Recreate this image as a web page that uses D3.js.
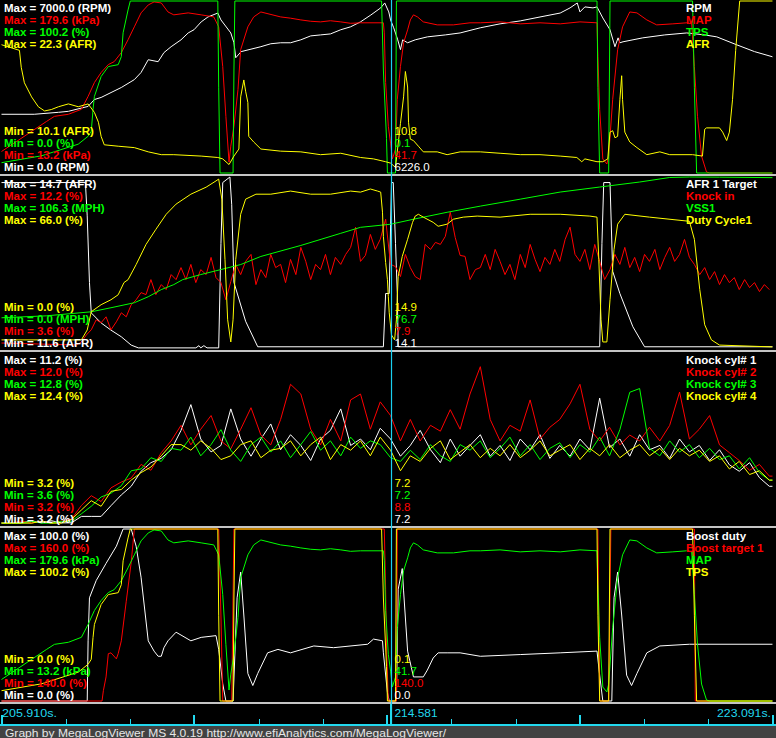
<!DOCTYPE html>
<html><head><meta charset="utf-8">
<script src="https://cdn.jsdelivr.net/npm/d3@7"></script>
<style>
html,body{margin:0;padding:0;background:#000;}
svg{display:block;}
</style></head><body>
<svg id="c" width="776" height="738"></svg>
<script>
// ---------- DATA ----------
const timeDomain = [205.910, 223.091];
const cursorTime = 214.581;
const tickTimes = [205.910,207.342,208.774,210.205,211.637,213.069,214.501,215.932,217.364,218.796,220.228,221.659,223.091];
const majorTickTimes = [205.910,210.205,214.501,218.796,223.091];
const axisLabels = ["205.910s.","214.581","223.091s."];
const footerText = "Graph by MegaLogViewer MS 4.0.19 http://www.efiAnalytics.com/MegaLogViewer/";

const panelNames = [["RPM","MAP","TPS","AFR"],["AFR 1 Target","Knock in","VSS1","Duty Cycle1"],["Knock cyl# 1","Knock cyl# 2","Knock cyl# 3","Knock cyl# 4"],["Boost duty","Boost target 1","MAP","TPS"]];
const panelUnits = [["RPM","kPa","%","AFR"],["AFR","%","MPH","%"],["%","%","%","%"],["%","%","kPa","%"]];
const panelMax = [[7000.0,179.6,100.2,22.3],[14.7,12.2,106.3,66.0],[11.2,12.0,12.8,12.4],[100.0,160.0,179.6,100.2]];
const panelMin = [[0.0,13.2,0.0,10.1],[11.6,3.6,0.0,0.0],[3.2,3.2,3.6,3.2],[0.0,140.0,13.2,0.0]];
const cursorValues = [["6226.0","41.7","0.1","10.8"],["14.1","7.9","76.7","14.9"],["7.2","8.8","7.2","7.2"],["0.0","140.0","41.7","0.1"]];

const rpm = [[205.91,2390],[206.64,2390],[207.18,2470],[207.40,2510],[207.84,2710],[207.98,2990],[208.13,3075],[208.58,3480],[208.87,3800],[209.02,4090],[209.18,4610],[209.40,4530],[209.53,4900],[209.69,5140],[209.91,5420],[210.07,5700],[210.20,5830],[210.36,6150],[210.51,6350],[210.73,6510],[210.80,6230],[211.02,5700],[211.09,5300],[211.13,4690],[211.25,4940],[211.69,5140],[211.91,5260],[212.13,5300],[212.35,5300],[212.58,5420],[212.80,5580],[213.02,5620],[213.24,5660],[213.47,5830],[213.69,5950],[213.91,6150],[214.14,6430],[214.36,6720],[214.45,6920],[214.54,6555],[214.58,6230],[214.65,5910],[214.74,5420],[214.80,5020],[214.85,5420],[214.96,5300],[215.13,5420],[215.40,5540],[215.80,5620],[216.13,5700],[216.58,5910],[217.02,6070],[217.47,6190],[217.91,6350],[218.36,6510],[218.58,6720],[218.74,6920],[218.80,6555],[218.91,6760],[219.09,6720],[219.18,6760],[219.31,6310],[219.47,5830],[219.58,5140],[219.65,5500],[219.69,5300],[219.76,5340],[220.20,5500],[220.69,5620],[221.18,5700],[221.58,5620],[221.85,5540],[222.29,5220],[222.69,4940],[223.09,4730]];

const map = [[205.91,34],[206.91,63],[207.09,68],[207.40,70],[207.69,74.8],[207.84,87.3],[207.98,100.7],[208.13,110.4],[208.29,118.1],[208.42,120.9],[208.58,129.6],[208.73,142.1],[208.87,154.6],[209.02,168.1],[209.18,175.8],[209.31,178.7],[209.47,177.7],[209.62,169.0],[209.75,166.2],[210.07,168.1],[210.36,166.2],[210.64,164.2],[210.75,154.6],[210.84,116.1],[210.91,68.0],[210.98,23.8],[211.02,39.2],[211.09,58.4],[211.18,94.0],[211.24,132.5],[211.40,154.6],[211.53,164.2],[211.69,169.0],[212.13,164.2],[212.35,163.0],[212.58,161.3],[212.80,160.0],[213.02,159.4],[213.24,160.5],[213.47,159.4],[213.69,158.0],[213.91,158.5],[214.42,158.5],[214.44,148.8],[214.47,100.7],[214.53,58.4],[214.58,42.1],[214.62,26.7],[214.69,36.3],[214.73,84.4],[214.80,116.1],[214.87,139.2],[214.96,151.7],[215.02,161.3],[215.09,166.2],[215.18,164.2],[215.31,159.4],[215.62,156.5],[215.98,156.5],[216.35,158.5],[216.58,158.5],[217.02,159.4],[217.47,157.5],[217.91,158.5],[218.36,157.5],[218.80,159.4],[219.18,158.5],[219.20,125.8],[219.24,74.8],[219.31,26.7],[219.40,21.9],[219.44,29.6],[219.53,84.4],[219.64,132.5],[219.75,154.6],[219.91,169.0],[220.07,168.1],[220.29,161.3],[220.51,156.5],[220.87,157.5],[221.18,158.5],[221.29,157.5],[221.35,116.1],[221.42,68.0],[221.51,29.6],[221.62,14.2],[221.69,13.2],[223.09,13.2]];

const tps = [[205.91,6],[206.80,10],[207.62,16.8],[207.84,21.4],[207.91,24.3],[207.95,37.0],[207.98,44.6],[208.13,56.2],[208.29,62.0],[208.51,63.1],[208.58,67.8],[208.62,81.7],[208.73,95.0],[208.78,100.2],[210.73,100.2],[210.75,50],[210.78,0],[211.07,0],[211.09,60],[211.11,100.2],[214.38,100.2],[214.42,60],[214.49,20],[214.51,0],[214.69,0],[214.71,100.2],[219.18,100.2],[219.20,50],[219.24,0],[219.44,0],[219.47,100.2],[221.31,100.2],[221.35,50],[221.40,0],[223.09,0]];

const afr = [[205.91,19.2],[206.31,18.8],[206.35,17.6],[206.42,16.5],[206.58,15.5],[206.73,14.8],[206.87,14.5],[207.02,14.6],[207.18,14.8],[207.40,15.0],[207.62,14.8],[207.84,15.0],[207.98,14.4],[208.07,13.7],[208.13,12.7],[208.20,12.1],[208.51,12.0],[208.87,11.9],[209.18,11.6],[209.47,11.4],[209.75,11.4],[210.36,11.3],[210.73,11.2],[210.84,11.1],[210.98,10.7],[211.09,11.3],[211.20,11.8],[211.24,15.5],[211.31,16.7],[211.35,15.9],[211.40,15.1],[211.42,12.7],[211.53,12.3],[211.69,11.8],[212.13,11.65],[212.58,11.6],[213.02,11.4],[213.47,11.5],[213.91,11.2],[214.20,11.1],[214.47,10.9],[214.58,10.8],[214.69,10.5],[214.80,13.6],[214.87,15.5],[214.91,17.3],[214.96,16.2],[214.98,13.7],[215.02,12.5],[215.09,12.4],[215.20,12.0],[215.31,11.6],[215.62,11.6],[215.84,11.4],[216.13,11.6],[216.58,11.6],[217.02,11.5],[217.47,11.4],[217.91,11.4],[218.36,11.3],[218.73,11.2],[218.84,10.9],[218.91,11.1],[219.18,10.9],[219.31,10.9],[219.42,11.1],[219.47,13.0],[219.53,13.1],[219.58,12.6],[219.64,12.7],[219.69,15.3],[219.73,17.0],[219.75,15.3],[219.80,13.0],[219.91,12.3],[220.07,11.9],[220.29,11.4],[220.58,11.6],[220.80,11.4],[221.31,11.4],[221.53,11.3],[221.58,13.2],[221.62,13.3],[221.91,13.3],[221.98,13.0],[222.07,12.4],[222.13,13.0],[222.20,15.3],[222.27,18.8],[222.36,22.3],[223.09,22.3]];

const afrTarget = [[205.91,14.6],[207.78,14.6],[207.82,14.0],[207.87,12.8],[207.91,12.25],[208.13,12.07],[208.35,11.94],[208.58,11.82],[208.80,11.67],[208.96,11.62],[210.24,11.62],[210.31,11.66],[210.35,11.62],[210.42,11.66],[210.49,11.62],[210.75,11.62],[210.80,13.5],[210.84,14.6],[211.00,14.7],[211.04,14.2],[211.09,12.8],[211.35,12.1],[211.62,11.64],[214.42,11.64],[214.47,12.6],[214.55,12.6],[214.60,14.6],[214.64,14.6],[214.69,13.5],[214.73,12.6],[214.75,11.64],[219.24,11.64],[219.29,13.5],[219.33,14.6],[219.47,14.6],[219.53,13.0],[219.69,12.6],[219.98,12.0],[220.24,11.64],[223.09,11.64]];

const knockIn = [[205.91,3.9],[207.58,3.8],[207.69,3.95],[207.80,4.3],[207.91,4.56],[208.02,5.06],[208.13,4.91],[208.24,5.21],[208.35,4.56],[208.47,4.96],[208.58,5.41],[208.69,5.21],[208.80,5.81],[208.91,6.06],[209.02,6.42],[209.13,6.32],[209.24,7.07],[209.35,6.32],[209.47,6.82],[209.58,6.57],[209.69,7.32],[209.80,7.07],[209.91,7.67],[210.02,7.07],[210.13,7.83],[210.24,6.92],[210.35,7.57],[210.47,7.32],[210.58,8.18],[210.69,7.17],[210.80,6.92],[210.91,6.06],[211.02,6.97],[211.13,7.83],[211.24,7.32],[211.35,7.98],[211.47,8.33],[211.58,6.82],[211.69,7.57],[211.80,7.17],[211.91,8.33],[212.02,7.67],[212.13,7.83],[212.24,6.92],[212.35,8.08],[212.47,7.32],[212.58,8.68],[212.69,7.98],[212.80,7.07],[212.91,7.83],[213.02,7.57],[213.13,8.33],[213.24,7.32],[213.35,8.18],[213.47,7.83],[213.58,8.33],[213.69,8.68],[213.80,9.69],[213.91,7.98],[214.02,8.28],[214.13,9.33],[214.24,8.58],[214.35,9.08],[214.47,10.09],[214.58,7.83],[214.69,7.72],[214.80,7.22],[214.91,8.33],[215.02,7.67],[215.13,7.22],[215.24,7.07],[215.35,8.83],[215.47,8.58],[215.58,8.93],[215.69,8.83],[215.80,9.23],[215.91,10.44],[216.02,9.18],[216.13,8.28],[216.24,8.23],[216.35,7.07],[216.47,7.57],[216.58,7.67],[216.69,8.33],[216.80,7.57],[216.91,8.58],[217.02,7.98],[217.13,7.32],[217.24,7.83],[217.35,7.07],[217.47,8.33],[217.58,7.67],[217.69,8.83],[217.80,8.08],[217.91,7.47],[218.02,8.18],[218.13,7.83],[218.24,8.58],[218.35,7.98],[218.47,9.08],[218.58,9.69],[218.69,8.33],[218.80,7.98],[218.91,8.58],[219.02,7.57],[219.13,8.83],[219.24,7.98],[219.35,7.07],[219.47,7.57],[219.58,8.33],[219.69,7.83],[219.80,8.68],[219.91,7.67],[220.02,8.18],[220.13,7.47],[220.24,8.33],[220.35,7.98],[220.47,8.58],[220.58,7.57],[220.69,8.18],[220.80,8.68],[220.91,7.98],[221.02,8.33],[221.13,9.08],[221.24,8.18],[221.35,7.83],[221.47,7.32],[221.58,7.67],[221.69,7.07],[221.80,7.47],[221.91,6.82],[222.02,7.32],[222.13,6.92],[222.24,7.17],[222.35,6.57],[222.47,7.07],[222.58,6.67],[222.69,6.92],[222.80,6.47],[222.91,6.82],[223.02,6.57]];

const vss = [[205.91,19.3],[206.91,20.5],[207.91,23.0],[208.35,25.5],[208.87,28.6],[209.18,32.3],[209.47,36.7],[209.75,39.8],[209.95,42.9],[210.35,46.0],[210.80,49.1],[211.24,52.2],[211.69,57.2],[212.58,64.0],[213.47,71.5],[213.91,75.2],[214.58,77.1],[215.09,80.2],[215.84,84.5],[216.58,88.3],[217.47,92.6],[218.36,97.0],[219.24,100.1],[220.13,103.2],[220.80,106.0],[221.24,106.3],[221.91,106.2],[223.09,105.9]];

const dutyCycle = [[205.91,3.5],[207.69,3.5],[207.82,7.3],[207.91,14.3],[208.13,17.0],[208.35,18.9],[208.51,20.8],[208.64,25.5],[208.73,26.6],[208.91,32.4],[209.13,40.1],[209.35,45.9],[209.58,51.7],[209.80,55.6],[210.13,59.4],[210.47,62.1],[210.69,64.5],[210.75,65.2],[210.82,57.5],[210.89,34.4],[210.95,11.2],[211.02,2.7],[211.07,11.2],[211.13,34.4],[211.24,51.7],[211.35,57.5],[211.58,59.4],[211.91,59.4],[212.35,60.6],[212.80,59.4],[213.24,59.4],[213.69,60.6],[213.91,60.2],[214.13,61.4],[214.29,60.6],[214.36,60.2],[214.40,52.5],[214.42,43.2],[214.47,33.2],[214.51,26.6],[214.53,20.1],[214.55,13.9],[214.60,5.4],[214.67,3.5],[214.71,11.2],[214.73,20.1],[214.75,27.8],[214.84,35.5],[214.96,42.1],[215.07,48.6],[215.13,51.0],[215.20,51.7],[215.31,50.6],[215.53,48.6],[215.64,47.1],[215.84,47.9],[215.98,49.8],[216.20,50.6],[216.51,51.0],[217.02,50.6],[217.69,51.7],[218.36,51.7],[219.02,51.0],[219.18,50.6],[219.22,34.4],[219.27,11.2],[219.31,2.7],[219.40,2.7],[219.47,18.9],[219.56,38.2],[219.64,47.9],[219.80,51.7],[220.35,50.6],[221.24,49.0],[221.35,42.1],[221.47,22.8],[221.58,9.3],[221.73,3.5],[221.91,1.5],[223.09,0.8]];

const knockTime = [205.91,206.13,206.35,206.58,206.80,207.02,207.24,207.47,207.69,207.91,208.13,208.35,208.58,208.80,209.02,209.24,209.47,209.69,209.91,210.13,210.35,210.58,210.80,211.02,211.24,211.47,211.69,211.91,212.13,212.35,212.58,212.80,213.02,213.24,213.47,213.69,213.91,214.13,214.35,214.58,214.80,215.02,215.24,215.47,215.69,215.91,216.13,216.35,216.58,216.80,217.02,217.24,217.47,217.69,217.91,218.13,218.35,218.58,218.80,219.02,219.24,219.46,219.69,219.91,220.13,220.35,220.58,220.80,221.02,221.24,221.46,221.69,221.91,222.13,222.35,222.58,222.80,223.02,223.09];
const knockCyl1 = [3.3,3.3,3.3,3.4,3.3,3.4,3.3,3.3,3.6,3.6,3.6,4.1,4.6,5.0,5.7,6.1,6.3,6.7,7.6,8.8,7.2,6.6,6.9,8.6,7.2,6.4,7.2,7.9,6.7,7.4,6.9,6.2,7.2,7.6,8.6,6.9,7.2,6.7,7.7,7.2,6.4,6.9,7.6,6.7,6.1,7.2,6.4,6.9,7.4,6.4,6.9,6.2,7.2,6.7,7.4,6.3,6.9,6.4,7.2,6.7,9.1,6.8,7.2,6.4,7.4,6.7,6.9,6.3,7.2,6.6,6.9,6.2,6.7,6.0,5.7,6.1,5.4,5.0,5.0];
const knockCyl2 = [3.3,3.3,3.4,3.3,3.4,3.3,3.4,3.5,4.2,4.7,4.4,5.1,5.4,5.6,6.3,6.0,6.9,7.5,8.3,7.3,8.1,8.8,7.5,7.1,8.1,9.2,7.8,7.3,8.6,10.4,9.9,8.1,7.3,8.6,7.5,9.6,9.9,8.1,9.5,8.8,7.5,8.6,7.5,8.3,8.0,9.1,8.1,9.9,11.3,8.6,7.5,8.3,8.0,9.6,7.6,8.2,8.6,9.4,10.4,8.1,7.5,8.2,7.3,7.8,7.5,8.2,7.5,8.3,10.0,7.6,8.1,8.8,7.3,6.9,6.5,6.0,6.3,5.7,5.7];
const knockCyl3 = [3.7,3.7,3.7,3.8,3.7,3.7,3.8,3.8,4.2,4.6,5.1,5.3,5.7,6.5,6.6,7.2,7.0,7.7,7.6,8.3,7.3,7.9,8.7,7.6,7.0,7.9,8.3,7.5,8.1,7.2,7.9,8.6,7.6,8.1,7.3,8.3,7.7,8.1,7.9,7.2,7.0,7.6,7.1,7.9,7.3,7.0,7.9,7.6,8.1,7.2,7.7,8.3,7.3,7.9,7.1,7.7,8.0,7.2,7.9,7.5,8.3,7.3,8.7,10.7,10.9,7.7,7.3,8.1,7.5,7.9,7.2,7.7,7.1,7.3,6.6,7.2,6.4,6.0,6.0];
const knockCyl4 = [3.3,3.3,3.3,3.3,3.4,3.3,3.3,3.5,4.0,4.5,4.2,5.0,5.1,5.6,6.0,6.3,6.9,7.5,7.5,7.2,7.7,7.3,6.7,6.9,7.5,7.7,6.8,7.2,7.3,7.7,6.9,7.5,7.9,6.7,7.5,7.2,7.7,6.9,7.9,7.2,6.1,6.9,6.6,7.3,7.7,6.7,7.1,7.5,6.8,7.3,6.9,7.5,6.8,7.2,7.7,6.9,7.2,7.5,6.7,7.3,6.9,7.5,6.8,7.2,7.5,6.9,7.3,6.7,7.3,6.9,7.2,6.6,6.9,6.2,6.6,5.9,6.1,5.6,5.6];

const boostDuty = [[205.91,0],[207.82,0],[207.84,35],[207.87,60],[208.02,70],[208.24,80],[208.47,90],[208.62,100],[208.80,100],[208.91,90],[209.02,72],[209.18,35],[209.31,29],[209.40,26],[209.47,26],[209.53,31],[209.62,35],[209.80,40],[210.13,35],[210.36,37],[210.69,38],[210.75,30],[210.84,10],[210.91,0],[211.07,0],[211.16,60],[211.24,75],[211.31,50],[211.40,16],[211.51,9],[211.62,16],[211.84,28],[212.07,30],[212.35,28],[212.87,32],[213.31,31],[214.07,33],[214.20,36],[214.40,35],[214.42,28],[214.51,5],[214.55,0],[214.71,0],[214.75,65],[214.84,77],[214.87,64],[214.96,29],[215.09,14],[215.31,14],[215.40,18],[215.53,25],[215.64,28],[215.84,28],[216.13,28],[216.58,26],[217.47,27],[218.36,28],[219.18,29],[219.24,15],[219.31,0],[219.51,0],[219.56,60],[219.64,75],[219.73,50],[219.84,15],[219.95,9],[220.07,16],[220.29,28],[220.58,32],[221.24,33],[223.09,33]];

const boostTarget = [[205.91,140],[208.15,140],[208.18,141.2],[208.24,142.8],[208.29,145.5],[208.35,145.6],[208.47,144.9],[208.51,145.5],[208.58,147.0],[208.69,151.6],[208.80,156.1],[208.87,160],[210.75,160],[210.80,150],[210.84,140],[211.04,140],[211.09,160],[214.44,160],[214.47,153],[214.49,146.4],[214.53,140],[214.71,140],[214.73,160],[219.20,160],[219.22,150],[219.24,140],[219.44,140],[219.49,160],[221.35,160],[221.37,140],[223.09,140]];

// ---------- BUILD ----------
const zipK = v => knockTime.map((t,i)=>[t, v[i]]);
const panelData = [
  [rpm, map, tps, afr],
  [afrTarget, knockIn, vss, dutyCycle],
  [zipK(knockCyl1), zipK(knockCyl2), zipK(knockCyl3), zipK(knockCyl4)],
  [boostDuty, boostTarget, map, tps]
];
const colors = ["#ffffff","#ff0000","#00ff00","#ffff00"];
const cyan = "#22d8ee";
const W = 776, H = 738, panelH = 176;
const FONT = "'Liberation Sans', Arial, sans-serif";

const svg = d3.select("#c");
svg.append("rect").attr("width",W).attr("height",H).attr("fill","#000");

const x = d3.scaleLinear().domain(timeDomain).range([1.5, 772.5]);

panelData.forEach((series, p) => {
  const top = p*panelH;
  const g = svg.append("g");
  series.forEach((data, i) => {
    const y = d3.scaleLinear().domain([panelMin[p][i], panelMax[p][i]]).range([top+173, top+1]);
    const line = d3.line().x(d=>x(d[0])).y(d=>y(d[1]));
    g.append("path").attr("d", line(data)).attr("fill","none")
      .attr("stroke", colors[i]).attr("stroke-width",1);
  });
  svg.append("rect").attr("x",0).attr("y",top+174).attr("width",W).attr("height",2).attr("fill","#c4c4c4");
});

// cursor line
const cx = Math.round(x(cursorTime)) + 0.5;
svg.append("line").attr("x1",cx).attr("x2",cx).attr("y1",0).attr("y2",726)
  .attr("stroke","#1ad0f0").attr("stroke-width",1.2);

// labels
panelData.forEach((series, p) => {
  const top = p*panelH;
  const maxBase = [12,24,36,48];
  const minBase = [135,147,159,171];
  series.forEach((data, i) => {
    const lab = (xx, yy, s, bold, col) => svg.append("text").attr("x",xx).attr("y",yy)
      .attr("fill",col).attr("font-family",FONT).attr("font-weight",bold?"bold":"normal")
      .attr("font-size",11.5).text(s);
    lab(4, top+maxBase[i], `Max = ${panelMax[p][i].toFixed(1)} (${panelUnits[p][i]})`, true, colors[i]);
    lab(686, top+maxBase[i], panelNames[p][i], true, colors[i]);
    const j = 3 - i;
    lab(4, top+minBase[j], `Min = ${panelMin[p][i].toFixed(1)} (${panelUnits[p][i]})`, true, colors[i]);
    lab(cx+3, top+minBase[j], cursorValues[p][i], false, colors[i]);
  });
});

// time axis
svg.append("rect").attr("x",0).attr("y",724).attr("width",W).attr("height",2).attr("fill",cyan);
tickTimes.forEach(t => {
  const major = majorTickTimes.includes(t);
  const tx = Math.round(x(t));
  svg.append("rect").attr("x", major ? tx-1 : tx).attr("y", major ? 715 : 719)
    .attr("width", major ? 2 : 1).attr("height", major ? 10 : 6).attr("fill",cyan);
});
svg.append("rect").attr("x",cx-1.5).attr("y",704).attr("width",2).attr("height",22).attr("fill",cyan);
const axT = [[2, axisLabels[0], "start", 55],[cx+3, axisLabels[1], "start", 43],[771, axisLabels[2], "end", 54]];
axT.forEach(([ax, s, anchor, len]) => {
  svg.append("text").attr("x",ax).attr("y",717).attr("fill",cyan)
    .attr("font-family",FONT).attr("font-size",11).attr("text-anchor",anchor)
    .attr("textLength",len).attr("lengthAdjust","spacingAndGlyphs").text(s);
});

// footer
svg.append("rect").attr("x",0).attr("y",726).attr("width",W).attr("height",12).attr("fill","#424242");
svg.append("text").attr("x",5).attr("y",737).attr("fill","#e6e6e6")
  .attr("font-family",FONT).attr("font-size",11.5)
  .attr("textLength",441).attr("lengthAdjust","spacingAndGlyphs").text(footerText);
</script>
</body></html>
